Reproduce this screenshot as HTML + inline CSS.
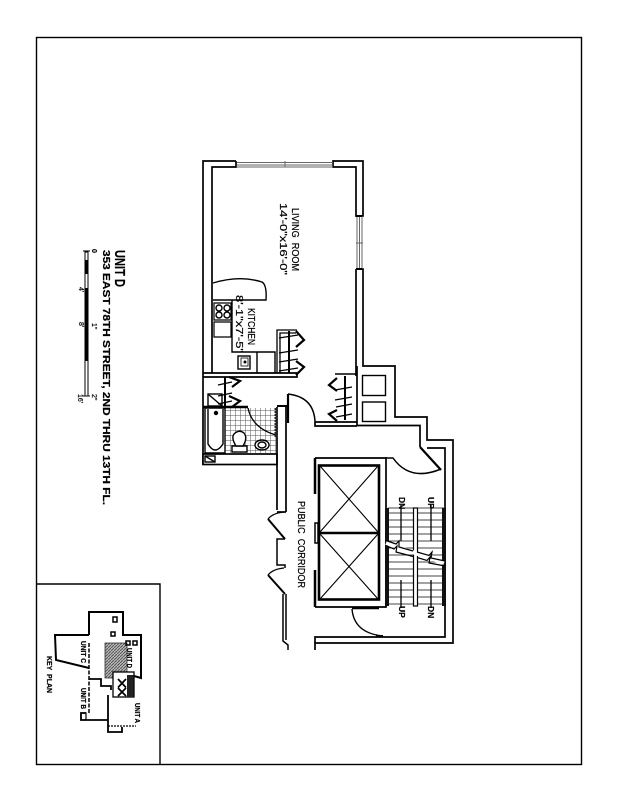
<!DOCTYPE html>
<html><head><meta charset="utf-8"><style>html,body{margin:0;padding:0;background:#fff}svg{display:block}text{font-family:"Liberation Sans",Arial,Helvetica,sans-serif;fill:#000;stroke:#000;stroke-width:.2}</style></head><body>
<svg xmlns="http://www.w3.org/2000/svg" width="618" height="800" viewBox="0 0 618 800">
<defs>
<pattern id="tile" width="5" height="5" patternUnits="userSpaceOnUse"><rect width="5" height="5" fill="#fff"/><path d="M0 0H5M0 0V5" stroke="#555" stroke-width="1"/></pattern>
<pattern id="hatch" width="3" height="3" patternUnits="userSpaceOnUse"><rect width="3" height="3" fill="#bbb"/><path d="M0 3L3 0" stroke="#555" stroke-width="1"/></pattern>
</defs>
<rect width="618" height="800" fill="#fff"/>
<g fill="none" stroke="#000" stroke-width="1.400">
<rect x="36.500" y="37.500" width="545" height="727"/>
<path d="M36 584H160V765"/>
<!-- walls -->
<g stroke-width="1.700">
<path d="M236 161H203V464H277"/>
<path d="M236 161V167H212V373"/>
<path d="M333 161H363V216H356V167H333Z"/>
<path d="M356 269H363V366H395V417H427V440H453V643H315V650"/>
<path d="M356 269V376"/>
<path d="M357 366V425.500H420V447"/>
<path d="M315 422H357M315 422V426H357"/>
<path d="M203 373H297V377H203"/>
<path d="M427 448H445V637H315V643"/>
</g>
<!-- windows -->
<g stroke="#666" stroke-width="1"><path d="M237 162.500H333M237 165H333M285 161V167M237 167H333"/>
<path d="M357 216V269M362 216V269M359.500 216V269M356 243H363"/></g>
<path d="M362 216H356M362 269H356" stroke-width="2"/>
<!-- shafts -->
<rect x="362.500" y="375.500" width="23" height="20"/>
<rect x="362.500" y="402" width="23" height="19.500"/>
<!-- counter -->
<path d="M213 283Q240 275 262 282Q267 285 266 300H213"/>
<path d="M214 303H231V320H214ZM214 322H231V337H214Z" stroke-width="1.200"/>
<circle cx="219" cy="308" r="3"/><circle cx="227" cy="308" r="3"/><circle cx="219" cy="315" r="3"/><circle cx="227" cy="315" r="3"/>
<path d="M232 300V352H275V373"/>
<path d="M257 352V373"/>
<rect x="238" y="356" width="12" height="13"/>
<rect x="241" y="358" width="7" height="8" stroke-width=".8"/>
<circle cx="245" cy="362" r=".8" fill="#000"/>
<!-- closet 1 -->
<path d="M277 373V330H297M280 373V333H296" stroke-width="1.300"/>
<path d="M289 331V373" stroke-width="2"/>
<path d="M296 331L304 340L296 347M296 361L304 367L296 375" stroke-width="2.200"/>
<path d="M279 338L298 335M279 353L298 350M279 362L298 359M279 371L298 368" stroke-width="1.200"/>
<!-- closet 2 -->
<path d="M335 374H357" stroke-width="1.500"/>
<path d="M345 376V420" stroke-width="2"/>
<path d="M337 378L329 385L337 391M337 410L329 414L337 421" stroke-width="2.200"/>
<path d="M335 390L352 387M335 400L352 397M336 407L352 404M336 417L352 414" stroke-width="1.200"/>
<!-- bath closet -->
<path d="M225 377V407" stroke-width="2"/>
<path d="M229 377L240 381L232 387M229 396L240 401L232 407" stroke-width="2.200"/>
<path d="M218 385L232 382M218 396L232 393M218 404L232 401" stroke-width="1.200"/>
<rect x="208" y="394" width="14" height="12"/>
<path d="M208 394L222 406"/>
</g>
<!-- bath -->
<rect x="225" y="408" width="51" height="45" fill="url(#tile)"/>
<g fill="none" stroke="#000" stroke-width="1.400">
<path d="M203 407H248" stroke-width="2.400"/>
<path d="M205 408V453H225V408Z" fill="#fff"/>
<path d="M208 409V444Q215 456 223 444V409" fill="#fff"/>
<circle cx="216" cy="413" r="1.500" fill="#000"/>
<path d="M248 408Q252 428 276 435" stroke-width="1.300"/>
<rect x="232" y="446" width="15" height="6" fill="#fff"/>
<path d="M236 446Q231 438 234 434Q239 429 244 433Q248 438 243 446Z" fill="#fff"/>
<ellipse cx="262" cy="445" rx="7" ry="5" fill="#fff"/>
<ellipse cx="262" cy="445" rx="4" ry="3"/>
<rect x="203" y="454" width="74" height="10.500" fill="#fff" stroke-width="1.700"/>
<rect x="205" y="456" width="10" height="6"/>
<path d="M205 456L215 462"/>
<path d="M277 407V510M286 407V512" stroke-width="1.700"/>
<path d="M277 406H287" stroke-width="2"/>
<path d="M276 408V437" stroke-width="3" stroke="#222" stroke-dasharray="2 1"/>
<path d="M288 394V423" stroke-width="2.200"/>
<path d="M288 394Q314 397 315 422" stroke-width="1.500"/>
<!-- corridor left -->
<path d="M277 512H286" stroke-width="1.700"/>
<path d="M268 519L285 539" stroke-width="2"/>
<path d="M268 519Q273 513 284 512" stroke-width="1.300"/>
<path d="M285 539H277V565H285V568" stroke-width="1.500"/>
<path d="M268 575L285 594" stroke-width="2"/>
<path d="M268 575Q273 569 284 568" stroke-width="1.300"/>
<path d="M283 594V641L288 645V650M286 594V640" stroke-width="1.500"/>
<!-- elevator -->
<path d="M315 458H386V607H315" stroke-width="1.700"/>
<path d="M315 523H318V543H315Z" stroke-width="1.500"/>
<rect x="319" y="465.500" width="60" height="134" stroke-width="2.600"/>
<path d="M319 533H379" stroke-width="2.500"/>
<path d="M320 466L378 532M378 466L320 532M320 534L378 599M378 534L320 599" stroke-width="1.100"/>
<path d="M315 458V494M315 570V607" stroke-width="2.500"/>
<!-- top door -->
<path d="M386 458H393Q410 482 441 469" stroke-width="1.500"/>
<path d="M420 447L441 470" stroke-width="2.200"/>
<!-- bottom door -->
<path d="M352 608H379" stroke-width="2.500"/>
<path d="M352 609Q354 633 383 636" stroke-width="1.400"/>
<path d="M376 636H383" stroke-width="2"/>
<!-- stairs -->
<path d="M388 508H444M388 513H444M388 520H444M388 527H444M388 534H444M388 541H444M388 548H444M388 555H444M388 562H444M388 569H444M388 576H444M388 583H444M388 590H444M388 597H444M388 604H444" stroke-width="1" stroke="#444"/>
<rect x="413.500" y="508" width="4" height="98" fill="#fff" stroke-width="1.200"/>
<path d="M387 508V606M444 508V606" stroke-width="4" stroke="#111"/>
<path d="M401 505V541M431 505V541M401 580V608M431 580V608" stroke-width="1.300"/>
<path d="M386 543L444 563" stroke="#fff" stroke-width="4"/>
<path d="M386 540.500L396 544L399 541L399 547L413 551M417 552L429 555.500L432 552L431 558L445 561M386 545.500L394 549L397 546L396 552L413 556.500M417 557.500L427 560.500L430 557L429 563L445 566" stroke-width="1.200"/>
</g>
<!-- Scale -->
<g fill="none" stroke="#000">
<rect x="85" y="252" width="3" height="144" stroke-width="1" fill="#fff"/>
<path d="M86.500 260V274M86.500 288V361" stroke-width="3.500"/>
<path d="M83 251H90M83 396H90" stroke-width="1"/>
</g>
<!-- key plan -->
<g fill="none" stroke="#000" stroke-width="1.800">
<rect x="105" y="643" width="22" height="35" fill="url(#hatch)" stroke="#333" stroke-width=".8"/>
<path d="M89 635V612H123V635H141V678L134 676M89 635H55L56 660L89 668" stroke-width="2"/>
<path d="M89 643V713" stroke-width="1.500" stroke-dasharray="4 1.500"/>
<path d="M89 679H101V686H111V690" stroke-width="1.800"/>
<path d="M108 695V732H122V727M108 720H81V713H86" stroke-width="1.800"/>
<path d="M108 726H136" stroke-dasharray="2 1" stroke-width="1.200"/>
<rect x="81" y="713" width="5" height="7" stroke-width="1.200"/>
<rect x="113" y="672" width="21" height="25" fill="#fff" stroke-width="1.300"/>
<rect x="127" y="675" width="6.500" height="22" fill="#222" stroke="none"/>
<path d="M118 679L126 687.500M126 679L118 687.500M118 688L126 696M126 688L118 696" stroke-width="1.700"/>
<path d="M113 617H117V622H113ZM111 632H115V636H111ZM126 641H130V645H126ZM133 641H137V645H133Z" stroke-width="1.500"/>
</g>
<!-- text -->
<g text-anchor="start">
<text transform="translate(115,250) rotate(90)" font-size="15" font-weight="bold" textLength="37" lengthAdjust="spacingAndGlyphs">UNIT D</text>
<text transform="translate(103,250) rotate(90)" font-size="10" font-weight="bold" textLength="255" lengthAdjust="spacingAndGlyphs">353 EAST 78TH STREET, 2ND THRU 13TH FL.</text>
<text transform="translate(92,249) rotate(90)" font-size="7" font-weight="bold">0</text>
<text transform="translate(79,287) rotate(90)" font-size="7">4'</text>
<text transform="translate(79,322) rotate(90)" font-size="7">8'</text>
<text transform="translate(78,394) rotate(90)" font-size="7">16'</text>
<text transform="translate(92,323) rotate(90)" font-size="7">1"</text>
<text transform="translate(92,394) rotate(90)" font-size="7">2"</text>
<text transform="translate(292,208) rotate(90)" font-size="9.800" textLength="63" lengthAdjust="spacingAndGlyphs" xml:space="preserve">LIVING  ROOM</text>
<text transform="translate(280,203) rotate(90)" font-size="10.500" textLength="72" lengthAdjust="spacingAndGlyphs">14'-0"x16'-0"</text>
<text transform="translate(248,308) rotate(90)" font-size="9.800" textLength="37" lengthAdjust="spacingAndGlyphs">KITCHEN</text>
<text transform="translate(236,295) rotate(90)" font-size="10.500" textLength="58" lengthAdjust="spacingAndGlyphs">8'-1"x7'-5"</text>
<text transform="translate(298,501) rotate(90)" font-size="10.500" textLength="87" lengthAdjust="spacingAndGlyphs" xml:space="preserve">PUBLIC  CORRIDOR</text>
<text transform="translate(399,497) rotate(90)" font-size="8.500" font-weight="bold">DN</text>
<text transform="translate(428,497) rotate(90)" font-size="8.500" font-weight="bold">UP</text>
<text transform="translate(399,606) rotate(90)" font-size="8.500" font-weight="bold">UP</text>
<text transform="translate(428,606) rotate(90)" font-size="8.500" font-weight="bold">DN</text>
<text transform="translate(47,656) rotate(90)" font-size="7.500" font-weight="bold" textLength="37" lengthAdjust="spacingAndGlyphs" xml:space="preserve">KEY  PLAN</text>
<text transform="translate(81,641) rotate(90)" font-size="7" font-weight="bold" textLength="22" lengthAdjust="spacingAndGlyphs">UNIT C</text>
<text transform="translate(81,688) rotate(90)" font-size="7" font-weight="bold" textLength="21" lengthAdjust="spacingAndGlyphs">UNIT B</text>
<text transform="translate(127,648) rotate(90)" font-size="7" font-weight="bold" textLength="20" lengthAdjust="spacingAndGlyphs">UNIT D</text>
<text transform="translate(135,703) rotate(90)" font-size="7" font-weight="bold" textLength="20" lengthAdjust="spacingAndGlyphs">UNIT A</text>
</g>
</svg>
</body></html>
